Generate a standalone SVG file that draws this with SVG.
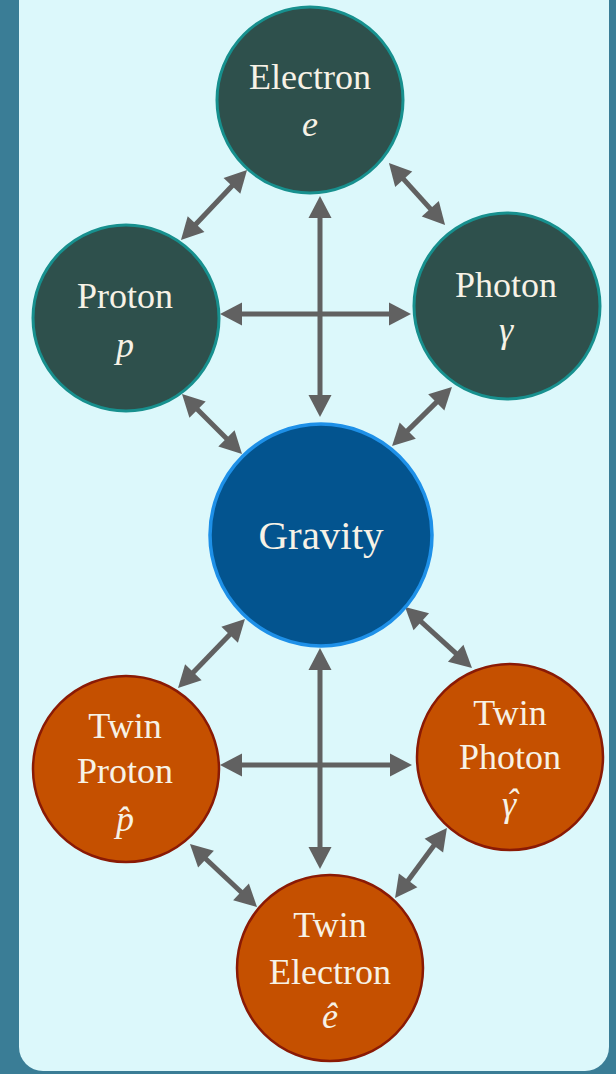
<svg xmlns="http://www.w3.org/2000/svg" width="616" height="1074" viewBox="0 0 616 1074">
<style>
.lbl{font-family:"Liberation Serif","Times New Roman",serif;font-size:36px;fill:#f7f2e6;text-anchor:middle}
.math{font-style:italic}
.dark{fill:#2e504c;stroke:#17908e;stroke-width:3}
.twin{fill:#c55000;stroke:#8a1a05;stroke-width:2.5}
.grav{fill:#03548f;stroke:#1e90e8;stroke-width:3.5}
.conn line{stroke:#616161;stroke-width:5;marker-start:url(#ah);marker-end:url(#ah)}
</style>
<defs>
<marker id="ah" markerUnits="userSpaceOnUse" markerWidth="22" markerHeight="23" refX="10" refY="11.5" orient="auto-start-reverse" overflow="visible">
<path d="M0,0 L22,11.5 L0,23 Z" fill="#616161"/>
</marker>
</defs>
<rect x="0" y="0" width="616" height="1074" fill="#3a7d96"/>
<rect x="19" y="-40" width="590" height="1111" rx="24" fill="#dcf8fb"/>
<g class="conn" id="connectors">
<line x1="238.8" y1="178.7" x2="189.2" y2="231.3"/>
<line x1="397" y1="171.9" x2="437" y2="216.1"/>
<line x1="320" y1="208" x2="320" y2="405"/>
<line x1="232" y1="314" x2="399" y2="314"/>
<line x1="190.5" y1="402.5" x2="233.5" y2="445.5"/>
<line x1="443.4" y1="395.4" x2="400.6" y2="437.6"/>
<line x1="236.6" y1="627.6" x2="186.4" y2="679.4"/>
<line x1="413.9" y1="615.1" x2="463.1" y2="659.9"/>
<line x1="320" y1="660" x2="320" y2="857"/>
<line x1="232" y1="765" x2="400" y2="765"/>
<line x1="198.7" y1="852.2" x2="248.3" y2="898.8"/>
<line x1="439.8" y1="837.6" x2="402.2" y2="888.4"/>
</g>
<g id="electron">
<circle class="dark" cx="310" cy="100" r="93"/>
<text class="lbl" font-family="Liberation Serif, serif" x="310" y="89">Electron</text>
<text class="lbl math" font-family="Liberation Serif, serif" x="310" y="136">e</text>
</g>
<g id="proton">
<circle class="dark" cx="126" cy="318" r="93"/>
<text class="lbl" font-family="Liberation Serif, serif" x="125" y="308">Proton</text>
<text class="lbl math" font-family="Liberation Serif, serif" x="125" y="357">p</text>
</g>
<g id="photon">
<circle class="dark" cx="507" cy="306" r="93"/>
<text class="lbl" font-family="Liberation Serif, serif" x="506" y="297">Photon</text>
<text class="lbl math" font-family="Liberation Serif, serif" x="506" y="342">γ</text>
</g>
<g id="gravity">
<circle class="grav" cx="321" cy="535" r="111"/>
<text class="lbl" font-family="Liberation Serif, serif" x="321" y="549" style="font-size:41px">Gravity</text>
</g>
<g id="twin-proton">
<circle class="twin" cx="126" cy="769" r="93"/>
<text class="lbl" font-family="Liberation Serif, serif" x="125" y="738">Twin</text>
<text class="lbl" font-family="Liberation Serif, serif" x="125" y="783">Proton</text>
<text class="lbl math" font-family="Liberation Serif, serif" x="125" y="831">p̂</text>
</g>
<g id="twin-photon">
<circle class="twin" cx="510" cy="757" r="93"/>
<text class="lbl" font-family="Liberation Serif, serif" x="510" y="725">Twin</text>
<text class="lbl" font-family="Liberation Serif, serif" x="510" y="769">Photon</text>
<text class="lbl math" font-family="Liberation Serif, serif" y="816"><tspan x="509">γ</tspan><tspan x="512" y="814">ˆ</tspan></text>
</g>
<g id="twin-electron">
<circle class="twin" cx="330" cy="968" r="93"/>
<text class="lbl" font-family="Liberation Serif, serif" x="330" y="937">Twin</text>
<text class="lbl" font-family="Liberation Serif, serif" x="330" y="984">Electron</text>
<text class="lbl math" font-family="Liberation Serif, serif" x="330" y="1028">ê</text>
</g>
</svg>
